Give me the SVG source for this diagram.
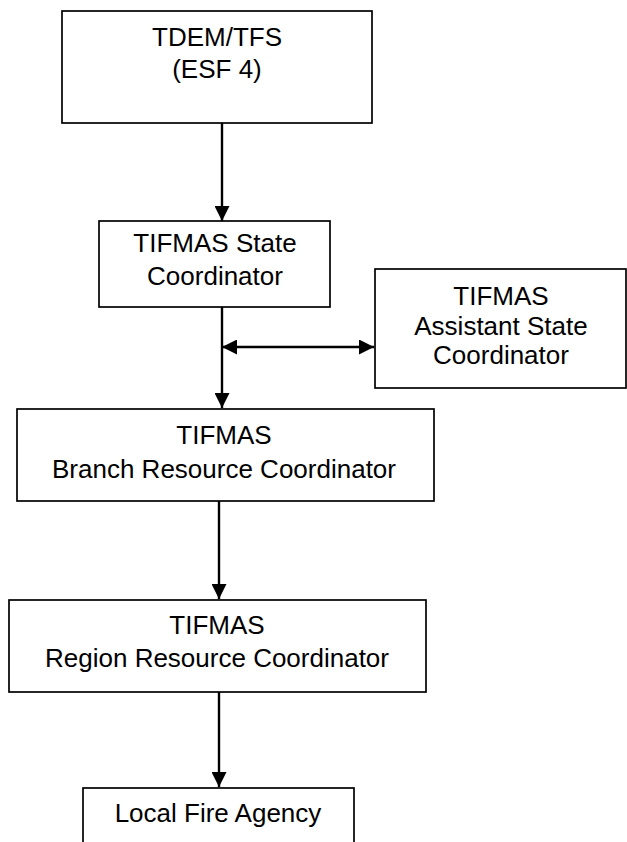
<svg xmlns="http://www.w3.org/2000/svg" width="627" height="842" viewBox="0 0 627 842">
<style>
.box{fill:#fff;stroke:#000;stroke-width:1.7}
.t{font-family:"Liberation Sans",Arial,sans-serif;font-size:26px;fill:#000;text-anchor:middle}
.c{stroke:#000;stroke-width:2.4;fill:none}
</style>
<defs>
<marker id="ah" markerUnits="userSpaceOnUse" markerWidth="15" markerHeight="15" refX="15" refY="7.5" orient="auto-start-reverse" viewBox="0 0 15 15">
<path d="M0,0 L15,7.5 L0,15 z" fill="#000"/>
</marker>
</defs>
<rect width="627" height="842" fill="#fff"/>
<g id="connectors">
<line class="c" x1="222" y1="123" x2="222" y2="221" marker-end="url(#ah)"/>
<line class="c" x1="222" y1="307" x2="222" y2="408" marker-end="url(#ah)"/>
<line class="c" x1="222" y1="347" x2="374" y2="347" marker-start="url(#ah)" marker-end="url(#ah)"/>
<line class="c" x1="219" y1="501" x2="219" y2="599" marker-end="url(#ah)"/>
<line class="c" x1="219" y1="692" x2="219" y2="787" marker-end="url(#ah)"/>
</g>
<g id="tdem">
<rect class="box" x="62" y="11" width="310" height="112"/>
<text class="t" x="217" y="46">TDEM/TFS</text>
<text class="t" x="217" y="78">(ESF 4)</text>
</g>
<g id="state">
<rect class="box" x="99" y="221" width="231" height="86"/>
<text class="t" x="215" y="252">TIFMAS State</text>
<text class="t" x="215" y="285">Coordinator</text>
</g>
<g id="assistant">
<rect class="box" x="375" y="269" width="251" height="119"/>
<text class="t" x="501" y="305">TIFMAS</text>
<text class="t" x="501" y="335">Assistant State</text>
<text class="t" x="501" y="364">Coordinator</text>
</g>
<g id="branch">
<rect class="box" x="17" y="409" width="417" height="92"/>
<text class="t" x="224" y="444">TIFMAS</text>
<text class="t" x="224" y="478">Branch Resource Coordinator</text>
</g>
<g id="region">
<rect class="box" x="9" y="600" width="417" height="92"/>
<text class="t" x="217" y="634">TIFMAS</text>
<text class="t" x="217" y="667">Region Resource Coordinator</text>
</g>
<g id="local">
<rect class="box" x="83" y="788" width="271" height="70"/>
<text class="t" x="218" y="822">Local Fire Agency</text>
</g>
</svg>
